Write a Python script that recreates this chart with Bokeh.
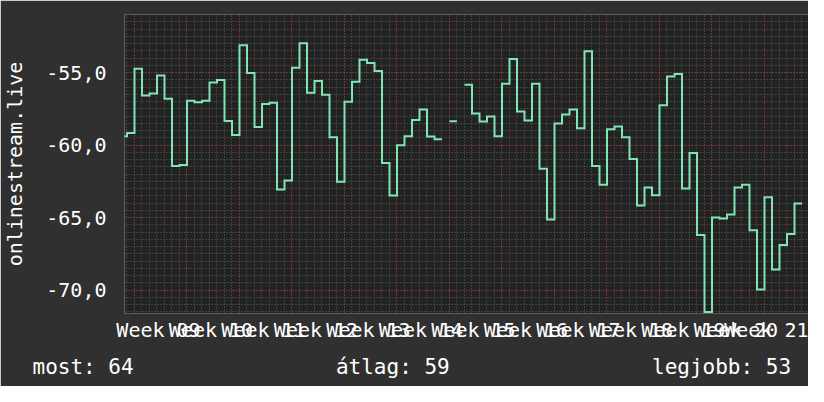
import math
from bokeh.plotting import figure
from bokeh.models import FixedTicker, Range1d, AllLabels, Title
from bokeh.embed import file_html
from bokeh.resources import INLINE

# ---- data (daily values, day 0 = first day of Week 09) ----
day_index = list(range(-2, 89))
values = [
    -59.39, -59.16,
    -54.73, -56.57, -56.43, -55.20, -56.80, -61.44, -61.37,
    -56.93, -57.05, -56.93, -55.68, -55.50, -58.34, -59.30,
    -53.11, -55.02, -58.75, -57.16, -57.07, -63.05, -62.44,
    -54.66, -52.97, -56.39, -55.57, -56.52, -59.46, -62.53,
    -57.00, -55.63, -54.11, -54.34, -54.88, -61.23, -63.48,
    -60.00, -59.39, -58.27, -57.55, -59.41, -59.59, float("nan"),
    -58.36, float("nan"), -55.84, -57.82, -58.37, -58.02, -59.39,
    -55.77, -54.06, -57.68, -58.30, -55.77, -61.62, -65.12,
    -58.50, -57.89, -57.55, -58.84, -53.52, -61.44, -62.73,
    -58.91, -58.71, -59.46, -60.96, -64.17, -62.92, -63.46,
    -57.25, -55.27, -55.09, -62.99, -60.55, -66.19, -71.50,
    -64.99, -65.05, -64.78, -62.92, -62.73, -65.87, -69.95,
    -63.60, -68.58, -66.88, -66.13, -64.02,
]
week_labels = ["Week 09", "Week 10", "Week 11", "Week 12", "Week 13", "Week 14",
               "Week 15", "Week 16", "Week 17", "Week 18", "Week 19", "Week 20", "Week 21"]
y_ticks = [-70, -65, -60, -55]
y_tick_labels = ["-70,0", "-65,0", "-60,0", "-55,0"]
y_title = "onlinestream.live"
legend_texts = ["most: 64", "átlag: 59", "legjobb: 53"]

# ---- styles ----
FONT = "DejaVu Sans Mono"
BG = "#303030"
CANVAS = "#222222"
LINE = "#7fe6b3"
MINOR = "#5c5c5c"
MAJOR = "#a03030"
WHITE = "#ffffff"
NBSP = "\u00a0"

p = figure(width=808, height=386, output_backend="svg", toolbar_location=None,
           x_range=Range1d(-1.333, 89.867), y_range=Range1d(-71.61, -50.99),
           min_border_left=124, min_border_right=0, min_border_top=14, min_border_bottom=70)
p.background_fill_color = CANVAS
p.border_fill_color = BG
p.outline_line_color = None

# step line built from daily values (each day is a flat segment)
xs, ys = [], []
for d, v in zip(day_index, values):
    xs += [d, d + 1]
    ys += [v, v]
p.line(xs, ys, line_width=2, color=LINE, line_join="miter")

# grids
week_bounds = [7 * w for w in range(-1, 13)]
p.xgrid.ticker = FixedTicker(ticks=week_bounds, minor_ticks=list(range(-2, 91)))
p.xgrid.grid_line_color = MAJOR
p.xgrid.grid_line_dash = "1 2"
p.xgrid.minor_grid_line_color = MINOR
p.xgrid.minor_grid_line_dash = "1 2"
p.ygrid.ticker = FixedTicker(ticks=y_ticks, minor_ticks=[-72 + 0.5 * i for i in range(44)])
p.ygrid.grid_line_color = MAJOR
p.ygrid.grid_line_dash = "1 2"
p.ygrid.minor_grid_line_color = MINOR
p.ygrid.minor_grid_line_dash = "1 2"

# x axis (week labels centred in each week)
label_pos = [3.2 + 7 * j for j in range(len(week_labels))]
xa = p.xaxis[0]
xa.ticker = FixedTicker(ticks=label_pos)
xa.major_label_overrides = {pos: lab for pos, lab in zip(label_pos, week_labels)}
xa.major_label_policy = AllLabels()

ya = p.yaxis[0]
ya.ticker = FixedTicker(ticks=y_ticks)
ya.major_label_overrides = {t: lab for t, lab in zip(y_ticks, y_tick_labels)}
ya.axis_label = y_title
ya.axis_label_text_font = FONT
ya.axis_label_text_font_size = "20px"
ya.axis_label_text_font_style = "normal"
ya.axis_label_text_color = WHITE
ya.axis_label_standoff = 16

for ax in (xa, ya):
    ax.axis_line_color = None
    ax.major_tick_line_color = None
    ax.minor_tick_line_color = None
    ax.major_tick_out = 0
    ax.major_tick_in = 0
    ax.major_label_text_font = FONT
    ax.major_label_text_font_size = "20px"
    ax.major_label_text_color = WHITE
xa.major_label_standoff = 4
ya.major_label_standoff = 18

# legend line below the chart
gap = NBSP * 16
legend = Title(text=legend_texts[0] + gap + legend_texts[1] + gap + legend_texts[2],
               align="left", offset=-92, standoff=16,
               vertical_align="bottom",
               text_font=FONT, text_font_size="21px", text_font_style="normal",
               text_color=WHITE)
p.add_layout(legend, "below")

open("out.html", "w").write(file_html(p, INLINE))
